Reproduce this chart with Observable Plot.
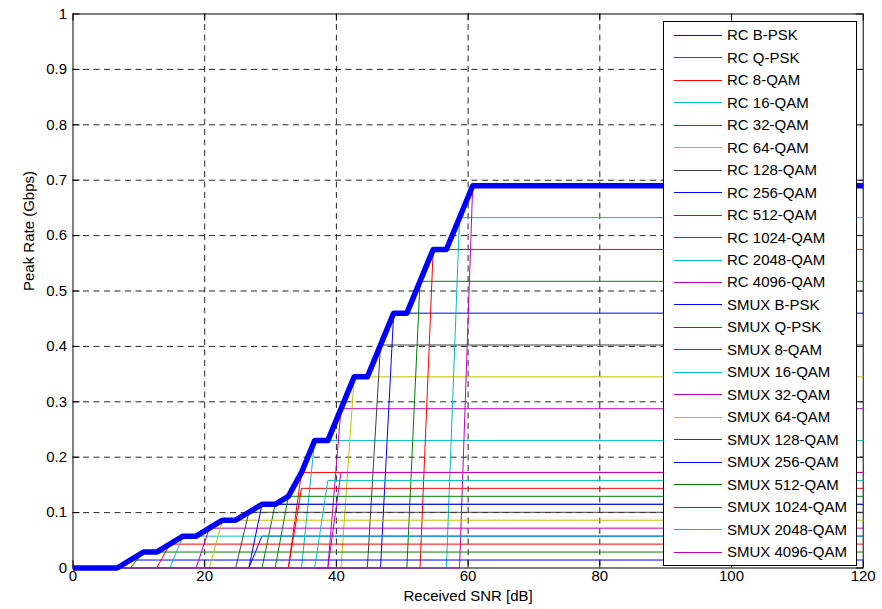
<!DOCTYPE html>
<html>
<head>
<meta charset="utf-8">
<script src="https://cdn.jsdelivr.net/npm/d3@7"></script>
<script src="https://cdn.jsdelivr.net/npm/@observablehq/plot@0.6"></script>
<style>
  html, body { margin: 0; padding: 0; background: #fff; }
  #wrap { position: relative; width: 882px; height: 609px; font-family: "Liberation Sans", Arial, Helvetica, sans-serif; }
  #wrap svg { display: block; }
  #legend { position: absolute; left: 663px; top: 21px; width: 192px; height: 543px; background: #fff; border: 1px solid #000; }
  .row { position: absolute; left: 0; height: 22px; width: 192px; }
  .swatch { position: absolute; left: 10px; top: 10.5px; width: 48px; height: 0; border-top: 1px solid; }
  .lab { position: absolute; left: 63px; top: 0; line-height: 22px; font-size: 15px; color: #000; white-space: nowrap; }
</style>
</head>
<body>
<div id="wrap"></div>
<script>
// ---- data ----
const rcLabels = ["RC B-PSK","RC Q-PSK","RC 8-QAM","RC 16-QAM","RC 32-QAM","RC 64-QAM","RC 128-QAM","RC 256-QAM","RC 512-QAM","RC 1024-QAM","RC 2048-QAM","RC 4096-QAM"];
const rcRates  = [0.0575, 0.115, 0.1725, 0.23, 0.2875, 0.345, 0.4025, 0.46, 0.5175, 0.575, 0.6325, 0.69];
const rcStart  = [26.7, 28.7, 32.7, 34.7, 38.7, 40.7, 44.7, 46.7, 50.7, 52.7, 56.7, 58.7];
const rcFull   = [28.7, 30.7, 34.7, 36.7, 40.7, 42.7, 46.7, 48.7, 52.7, 54.7, 58.7, 60.7];

const smuxLabels = ["SMUX B-PSK","SMUX Q-PSK","SMUX 8-QAM","SMUX 16-QAM","SMUX 32-QAM","SMUX 64-QAM","SMUX 128-QAM","SMUX 256-QAM","SMUX 512-QAM","SMUX 1024-QAM","SMUX 2048-QAM","SMUX 4096-QAM"];
const smuxRates  = [0.0144, 0.0288, 0.0431, 0.0575, 0.0719, 0.0863, 0.1006, 0.115, 0.1294, 0.1438, 0.1581, 0.1725];
const smuxStart  = [6.7, 8.7, 12.7, 14.7, 18.7, 20.7, 24.7, 26.7, 30.7, 32.7, 36.7, 38.7];
const smuxFull   = [8.7, 10.7, 14.7, 16.7, 20.7, 22.7, 26.7, 28.7, 32.7, 34.7, 38.7, 40.7];

const envelopeSNR  = [0, 6.7, 10.7, 12.7, 16.7, 18.7, 22.7, 24.7, 26.7, 28.7, 30.7, 32.7, 34.7, 36.7, 38.7, 42.7, 44.7, 48.7, 50.7, 54.7, 56.7, 60.7, 120];
const envelopeRate = [0, 0, 0.0288, 0.0288, 0.0575, 0.0575, 0.0863, 0.0863, 0.1006, 0.115, 0.115, 0.1294, 0.1725, 0.23, 0.23, 0.345, 0.345, 0.46, 0.46, 0.575, 0.575, 0.69, 0.69];

const colorCycle = ["#0000ff", "#008000", "#ff0000", "#00bfbf", "#bf00bf", "#bfbf00", "#404040"];
const xTicks = [0, 20, 40, 60, 80, 100, 120];
const xTickLabels = ["0", "20", "40", "60", "80", "100", "120"];
const yTicks = [0, 0.1, 0.2, 0.3, 0.4, 0.5, 0.6, 0.7, 0.8, 0.9, 1];
const yTickLabels = ["0", "0.1", "0.2", "0.3", "0.4", "0.5", "0.6", "0.7", "0.8", "0.9", "1"];
const xLabel = "Received SNR [dB]";
const yLabel = "Peak Rate (Gbps)";
const xMax = 120;

// ---- build tables ----
const series = [];
function addGroup(labels, rates, starts, fulls) {
  labels.forEach((name, i) => {
    series.push({name, color: colorCycle[i % colorCycle.length], rate: rates[i], start: starts[i], full: fulls[i]});
  });
}
addGroup(rcLabels, rcRates, rcStart, rcFull);
addGroup(smuxLabels, smuxRates, smuxStart, smuxFull);

const rows = [];
series.forEach(s => {
  rows.push({name: s.name, color: s.color, x: 0, y: 0});
  rows.push({name: s.name, color: s.color, x: s.start, y: 0});
  rows.push({name: s.name, color: s.color, x: s.full, y: s.rate});
  rows.push({name: s.name, color: s.color, x: xMax, y: s.rate});
});
const envelope = envelopeSNR.map((x, i) => ({x, y: envelopeRate[i]}));

const W = 882, H = 609;
const mT = 13.5, mR = 19.3, mB = 41.5, mL = 72.5;
const innerW = W - mL - mR, innerH = H - mT - mB;
const tickPx = 7;
const tY = tickPx / innerH;          // tick length in y units
const tX = tickPx * xMax / innerW;   // tick length in x units

const grid = {stroke: "#000", strokeOpacity: 0.85, strokeDasharray: "6,4.5", strokeWidth: 1};

const chart = Plot.plot({
  width: W, height: H,
  marginTop: mT, marginRight: mR, marginBottom: mB, marginLeft: mL,
  x: {domain: [0, xMax], axis: null},
  y: {domain: [0, 1], axis: null},
  color: {type: "identity"},
  style: {fontFamily: "Liberation Sans, Arial, Helvetica, sans-serif", fontSize: "15px", background: "#fff", overflow: "visible"},
  marks: [
    Plot.ruleX(xTicks.slice(1, -1), grid),
    Plot.ruleY(yTicks.slice(1, -1), grid),
    Plot.frame({stroke: "#000", strokeWidth: 1}),
    Plot.ruleX(xTicks, {x: d => d, y1: 0, y2: tY, stroke: "#000"}),
    Plot.ruleX(xTicks, {x: d => d, y1: 1 - tY, y2: 1, stroke: "#000"}),
    Plot.ruleY(yTicks, {y: d => d, x1: 0, x2: tX, stroke: "#000"}),
    Plot.ruleY(yTicks, {y: d => d, x1: xMax - tX, x2: xMax, stroke: "#000"}),
    Plot.line(rows, {x: "x", y: "y", z: "name", stroke: "color", strokeWidth: 1, curve: "linear"}),
    Plot.line(envelope, {x: "x", y: "y", stroke: "#0000ff", strokeWidth: 5.5, strokeLinejoin: "round", strokeLinecap: "butt"}),
    Plot.text(xTicks, {x: d => d, text: (d, i) => xTickLabels[i], frameAnchor: "bottom", dy: 13, fontSize: 15, fill: "#000"}),
    Plot.text(yTicks, {y: d => d, text: (d, i) => yTickLabels[i], frameAnchor: "left", dx: -6, textAnchor: "end", fontSize: 15, fill: "#000"}),
    Plot.text([xLabel], {frameAnchor: "bottom", dy: 33, fontSize: 15, fill: "#000"}),
    Plot.text([yLabel], {frameAnchor: "left", dx: -44, rotate: -90, fontSize: 15, fill: "#000"})
  ]
});

const wrap = document.getElementById("wrap");
wrap.appendChild(chart);

// legend box (drawn over the lines, as in the reference)
const legend = document.createElement("div");
legend.id = "legend";
const rowStep = 22.47;
series.forEach((s, i) => {
  const r = document.createElement("div");
  r.className = "row";
  r.style.top = (13.3 + rowStep * i - 11) + "px";
  const sw = document.createElement("div");
  sw.className = "swatch";
  sw.style.borderTopColor = s.color;
  const lb = document.createElement("div");
  lb.className = "lab";
  lb.textContent = s.name;
  r.appendChild(sw);
  r.appendChild(lb);
  legend.appendChild(r);
});
wrap.appendChild(legend);
</script>
</body>
</html>
